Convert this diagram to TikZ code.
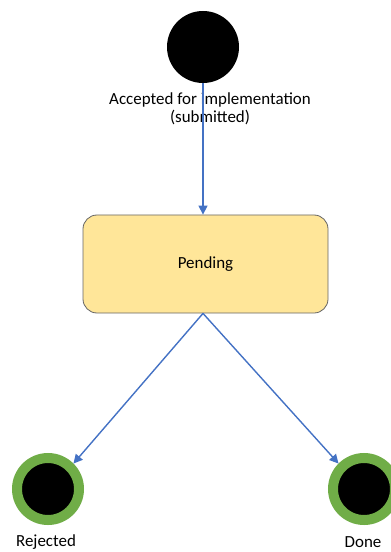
\documentclass[tikz,border=0pt]{standalone}
\usepackage{fontspec}
\setmainfont{Carlito}
\usetikzlibrary{arrows.meta}
\definecolor{flowblue}{HTML}{4472C4}
\definecolor{stategold}{HTML}{FFE699}
\definecolor{endgreen}{HTML}{70AD47}
\begin{document}
\begin{tikzpicture}[x=1bp,y=-1bp,
  lbl/.style={font=\fontsize{17}{18}\selectfont, align=center, inner sep=0pt},
  startstate/.style={circle, fill=black, minimum size=72bp, inner sep=0pt},
  endstate/.style={circle, fill=black, draw=endgreen, line width=10bp, minimum size=62bp, inner sep=0pt},
  statebox/.style={rectangle, rounded corners=14bp, fill=stategold, draw=gray!80!black, line width=0.8bp,
    minimum width=245bp, minimum height=98bp, font=\fontsize{17}{18}\selectfont},
  flow/.style={draw=flowblue, line width=1.4bp, -{Triangle[length=9bp,width=9bp]}}]
\useasboundingbox (0,0) rectangle (390,552);
\node[startstate] (start) at (203,47) {};
\node[lbl] (startlbl) at (210,109) {Accepted for implementation\\(submitted)};
\node[statebox] (pending) at (205.5,264) {Pending};
\node[endstate] (rejected) at (48,489) {};
\node[endstate] (done) at (364,489) {};
\node[lbl] (rejlbl) at (46,542) {Rejected};
\node[lbl] (donelbl) at (363,542) {Done};
\draw[flow] (start.south) -- (start.south |- pending.north);
\draw[flow] (pending.south -| start) -- (rejected.45);
\draw[flow] (pending.south -| start) -- (done.135);
\end{tikzpicture}
\end{document}
